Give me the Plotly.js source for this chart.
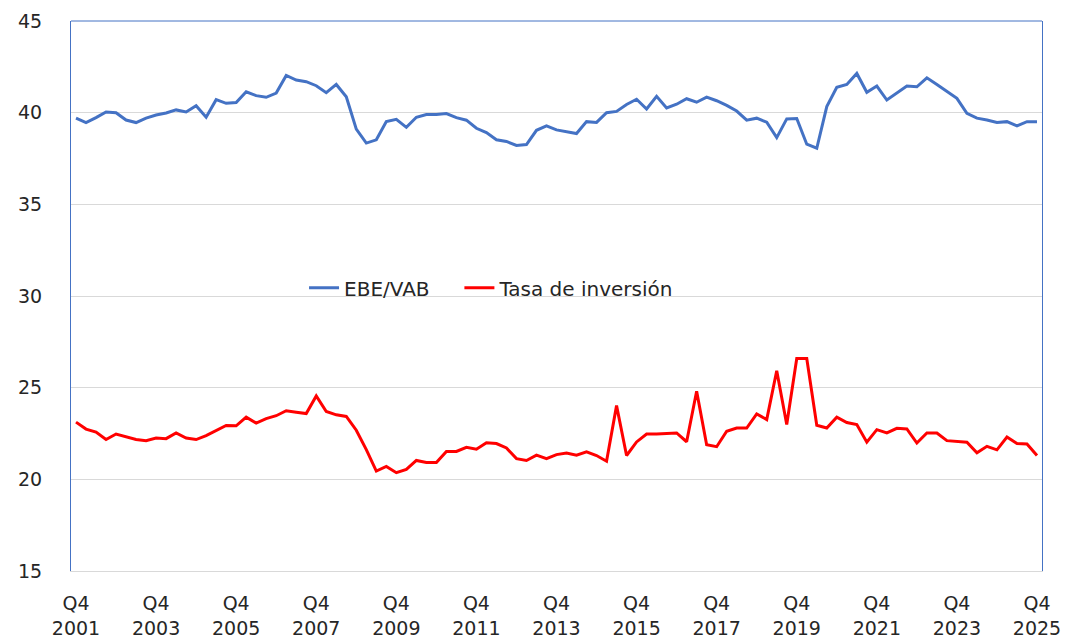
<!DOCTYPE html>
<html>
<head>
<meta charset="utf-8">
<script src="https://cdn.plot.ly/plotly-3.0.1.min.js"></script>
<style>html,body{margin:0;padding:0;background:#fff;}#chart{width:1069px;height:642px;}</style>
</head>
<body>
<div id="chart"></div>
<script>
const quarters = [];
quarters.push('2001Q4');
for (let y = 2002; y <= 2025; y++) {
  for (let q = 1; q <= 4; q++) quarters.push(y + 'Q' + q);
}

const ebeVab = [
  39.70, 39.46, 39.73, 40.04, 40.00, 39.60, 39.46, 39.70, 39.87, 39.98,
  40.15, 40.04, 40.38, 39.75, 40.71, 40.51, 40.55, 41.14, 40.93, 40.84,
  41.07, 42.03, 41.78, 41.69, 41.47, 41.09, 41.54, 40.87, 39.10, 38.34,
  38.52, 39.51, 39.64, 39.20, 39.75, 39.90, 39.90, 39.95, 39.73, 39.59,
  39.15, 38.91, 38.52, 38.43, 38.21, 38.26, 39.04, 39.28, 39.06, 38.95,
  38.86, 39.51, 39.47, 40.00, 40.07, 40.45, 40.73, 40.20, 40.89, 40.26,
  40.46, 40.76, 40.57, 40.85, 40.65, 40.40, 40.09, 39.59, 39.70, 39.48,
  38.64, 39.66, 39.68, 38.28, 38.06, 40.33, 41.38, 41.54, 42.14, 41.11,
  41.45, 40.69, 41.09, 41.45, 41.41, 41.90, 41.54, 41.14, 40.78, 39.96,
  39.70, 39.60, 39.46, 39.51, 39.28, 39.51, 39.51
];

const tasaInversion = [
  23.12, 22.74, 22.58, 22.17, 22.47, 22.30, 22.17, 22.11, 22.25, 22.22,
  22.53, 22.25, 22.17, 22.38, 22.65, 22.94, 22.92, 23.39, 23.07, 23.31,
  23.47, 23.74, 23.66, 23.59, 24.55, 23.70, 23.52, 23.43, 22.68, 21.62,
  20.45, 20.70, 20.36, 20.54, 21.03, 20.92, 20.92, 21.52, 21.52, 21.75,
  21.64, 22.00, 21.95, 21.71, 21.13, 21.03, 21.32, 21.13, 21.35, 21.44,
  21.32, 21.50, 21.30, 20.99, 24.02, 21.30, 22.04, 22.47, 22.47, 22.49,
  22.53, 22.05, 24.80, 21.89, 21.78, 22.62, 22.80, 22.80, 23.57, 23.26,
  25.92, 22.99, 26.59, 26.59, 22.95, 22.80, 23.39, 23.10, 22.99, 22.03,
  22.71, 22.53, 22.78, 22.75, 21.98, 22.53, 22.53, 22.11, 22.05, 22.02,
  21.45, 21.80, 21.61, 22.31, 21.96, 21.93, 21.30
];

const tickYears = [2001, 2003, 2005, 2007, 2009, 2011, 2013, 2015, 2017, 2019, 2021, 2023, 2025];
const tickVals = tickYears.map(y => y + 'Q4');
const tickText = tickYears.map(y => 'Q4<br>' + y);

const fontFam = 'DejaVu Sans, Noto Sans, sans-serif';
const textColor = '#262626';

const traces = [
  {x: quarters, y: ebeVab, type: 'scatter', mode: 'lines', name: 'EBE/VAB',
   line: {color: '#4472C4', width: 3}, legend: 'legend'},
  {x: quarters, y: tasaInversion, type: 'scatter', mode: 'lines', name: 'Tasa de inversión',
   line: {color: '#FF0000', width: 3}, legend: 'legend2'}
];

const legendCommon = {orientation: 'h', y: 0.515, yanchor: 'middle', xanchor: 'left',
  bgcolor: 'rgba(0,0,0,0)', font: {size: 20, color: textColor}, itemwidth: 30};

const layout = {
  width: 1069, height: 642,
  margin: {l: 71, r: 27, t: 21, b: 71},
  paper_bgcolor: '#ffffff', plot_bgcolor: '#ffffff',
  font: {family: fontFam, size: 19, color: textColor},
  showlegend: true,
  legend: Object.assign({}, legendCommon, {x: 0.240}),
  legend2: Object.assign({}, legendCommon, {x: 0.400}),
  xaxis: {
    type: 'category', categoryorder: 'array', categoryarray: quarters,
    range: [-0.5, 96.5],
    tickmode: 'array', tickvals: tickVals, ticktext: tickText,
    showgrid: false, showline: true, linecolor: '#d9d9d9', linewidth: 1,
    ticks: '', ticklabelstandoff: 15, tickangle: 0,
    tickfont: {size: 19, color: textColor}
  },
  yaxis: {
    range: [15, 45], tickvals: [15, 20, 25, 30, 35, 40, 45],
    showgrid: true, gridcolor: '#d9d9d9', gridwidth: 1,
    zeroline: false, showline: true, linecolor: '#4472C4', linewidth: 1, mirror: true,
    ticks: '', ticklabelstandoff: 24,
    tickfont: {size: 19, color: textColor}
  },
  shapes: [
    {type: 'line', xref: 'paper', yref: 'paper', x0: 0, x1: 1, y0: 1, y1: 1,
     line: {color: '#4472C4', width: 1}, layer: 'above'}
  ]
};

Plotly.newPlot('chart', traces, layout, {displayModeBar: false, staticPlot: true});
</script>
</body>
</html>
